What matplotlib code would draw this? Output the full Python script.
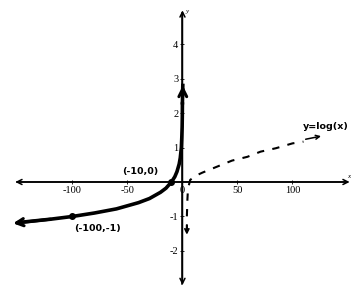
import matplotlib
matplotlib.use("Agg")
import matplotlib.pyplot as plt

# Data
x_ticks = [-100, -50, 0, 50, 100]
x_tick_labels = ["-100", "-50", "0", "50", "100"]
y_ticks = [-2, -1, 1, 2, 3, 4]
y_tick_labels = ["-2", "-1", "1", "2", "3", "4"]

solid_x = [-150, -120, -100, -80, -60, -40, -30, -20, -15, -10, -7, -5, -3, -2, -1, -0.6, -0.3, -0.15, -0.05]
solid_y = [-1.18, -1.08, -1.0, -0.9, -0.78, -0.6, -0.48, -0.3, -0.18, 0.0, 0.15, 0.3, 0.52, 0.7, 1.0, 1.3, 1.6, 1.9, 2.3]
solid_top = (0.3, 2.8)

dash_x = [4, 4, 4.5, 5, 7, 12, 18, 28, 45, 59, 71, 85, 100, 110]
dash_y = [-1.45, -1.0, -0.5, -0.2, 0.06, 0.18, 0.27, 0.40, 0.62, 0.73, 0.88, 0.98, 1.12, 1.17]

points_x = [-10, -100]
points_y = [0, -1]
point_labels = ["(-10,0)", "(-100,-1)"]
curve_label = "y=log(x)"

fig = plt.figure(figsize=(3.59, 2.94), dpi=100)
ax = fig.add_axes([0, 0, 1, 1])
ax.set_xlim(-165.9, 160.5)
ax.set_ylim(-3.25, 5.28)

# axes as spines through origin
for s in ["top", "right"]:
    ax.spines[s].set_visible(False)
ax.spines["left"].set_position(("data", 0))
ax.spines["bottom"].set_position(("data", 0))
ax.spines["bottom"].set_bounds(-150, 150)
ax.spines["left"].set_bounds(-2.95, 4.9)
ax.spines["left"].set_linewidth(1.1)
ax.spines["bottom"].set_linewidth(1.1)
ax.set_xticks(x_ticks)
ax.set_xticklabels(x_tick_labels)
ax.set_yticks(y_ticks)
ax.set_yticklabels(y_tick_labels)
ax.tick_params(direction="inout", length=3, width=0.6, labelsize=7.5, pad=1.5)
for lab in ax.get_xticklabels() + ax.get_yticklabels():
    lab.set_fontfamily("Liberation Serif")

# axis arrows
ap = dict(arrowstyle="<->", lw=1.1, color="black", mutation_scale=9, shrinkA=0, shrinkB=0)
ax.annotate("", xy=(152, 0), xytext=(-152, 0), arrowprops=ap)
ax.annotate("", xy=(0, 4.98), xytext=(0, -2.99), arrowprops=ap)
ax.text(150, 0.1, "x", fontsize=5, fontstyle="italic", family="Liberation Serif", ha="left", va="bottom")
ax.text(3, 4.95, "y", fontsize=5, fontstyle="italic", family="Liberation Serif", ha="left", va="center")

# solid curve
ax.plot(solid_x, solid_y, color="black", lw=2.6, solid_capstyle="round")
ax.plot([solid_x[-1], solid_top[0]], [solid_y[-1], solid_top[1]], color="black", lw=2.6)
ax.annotate("", xy=solid_top, xytext=(solid_top[0], solid_top[1] - 0.3),
            arrowprops=dict(arrowstyle="->", lw=2.2, color="black", mutation_scale=14, shrinkA=0, shrinkB=0))
ax.annotate("", xy=(solid_x[0] - 4, solid_y[0] - 0.02), xytext=(solid_x[1], solid_y[1]),
            arrowprops=dict(arrowstyle="->", lw=2.2, color="black", mutation_scale=13, shrinkA=0, shrinkB=0))
ax.plot(points_x, points_y, "o", color="black", ms=4)

# dashed curve
ax.plot(dash_x, dash_y, color="black", lw=1.5, dashes=(3.5, 4))
ax.annotate("", xy=(dash_x[0], dash_y[0] - 0.08), xytext=(dash_x[0], dash_y[0] + 0.2),
            arrowprops=dict(arrowstyle="->", lw=1.3, color="black", mutation_scale=7, shrinkA=0, shrinkB=0))
ax.annotate("", xy=(126, 1.33), xytext=(112, 1.24),
            arrowprops=dict(arrowstyle="->", lw=1.1, color="black", mutation_scale=7, shrinkA=0, shrinkB=0))

# handwritten labels
hw = dict(fontsize=6.8, fontweight="bold", family="DejaVu Sans", color="black")
ax.text(-38, 0.3, point_labels[0], ha="center", va="center", **hw)
ax.text(-77, -1.35, point_labels[1], ha="center", va="center", **hw)
ax.text(130, 1.62, curve_label, ha="center", va="center", **hw)

fig.savefig("out.png", dpi=100)
